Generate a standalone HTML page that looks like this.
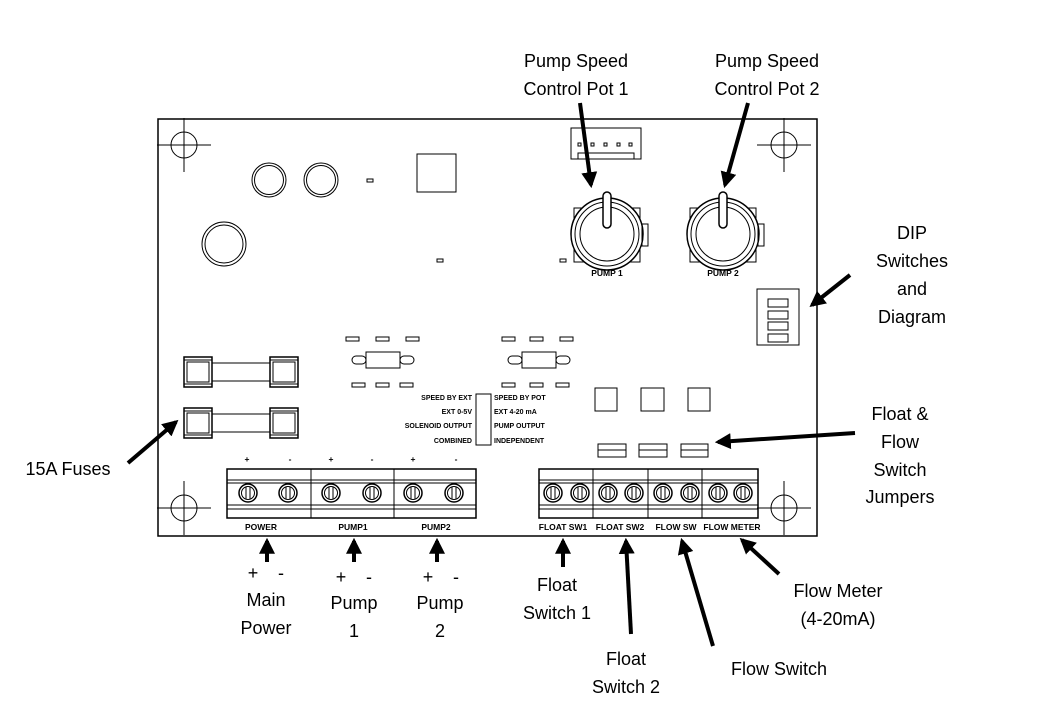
<!DOCTYPE html>
<html><head><meta charset="utf-8"><style>
html,body{margin:0;padding:0;background:#fff;}
svg{display:block;}
.t{font-family:"Liberation Sans",sans-serif;font-size:18px;fill:#000;text-anchor:middle;}
.s{font-family:"Liberation Sans",sans-serif;font-size:7px;font-weight:bold;fill:#000;}
.l{font-family:"Liberation Sans",sans-serif;font-size:8.5px;font-weight:bold;fill:#000;text-anchor:middle;}
</style></head><body>
<svg width="1050" height="713" viewBox="0 0 1050 713" xmlns="http://www.w3.org/2000/svg">
<defs>
<marker id="a" viewBox="0 0 10 10" refX="8" refY="5" markerWidth="4" markerHeight="4" orient="auto"><path d="M0,0 L10,5 L0,10 z" fill="#000"/></marker>
<g id="ch"><circle r="13" fill="none" stroke="#000" stroke-width="1"/><line x1="-27" y1="0" x2="27" y2="0" stroke="#000"/><line x1="0" y1="-27" x2="0" y2="27" stroke="#000"/></g>
<g id="sc"><circle r="9" fill="#fff" stroke="#000" stroke-width="1.5"/><circle r="6.5" fill="none" stroke="#000"/><line x1="-2" y1="-6" x2="-2" y2="6" stroke="#000"/><line x1="2" y1="-6" x2="2" y2="6" stroke="#000"/></g>
<g id="pot" fill="none" stroke="#000"><rect x="-33" y="-26" width="66" height="54"/><circle r="36" fill="#fff" stroke-width="1.5"/><circle r="32"/><circle r="27"/><rect x="-4" y="-42" width="8" height="36" rx="4" fill="#fff" stroke-width="1.5"/><rect x="35" y="-10" width="6" height="22"/></g>
<g id="fu" fill="none" stroke="#000"><rect x="0" y="0" width="28" height="30" fill="#fff" stroke-width="1.5"/><rect x="3" y="5" width="22" height="20"/><line x1="0" y1="3" x2="28" y2="3"/><line x1="0" y1="27" x2="28" y2="27"/><line x1="28" y1="6" x2="86" y2="6"/><line x1="28" y1="24" x2="86" y2="24"/><rect x="86" y="0" width="28" height="30" fill="#fff" stroke-width="1.5"/><rect x="89" y="5" width="22" height="20"/><line x1="86" y1="3" x2="114" y2="3"/><line x1="86" y1="27" x2="114" y2="27"/></g>
</defs>
<rect x="158" y="119" width="659" height="417" fill="none" stroke="#000" stroke-width="1.5"/>
<use href="#ch" x="184" y="145"/><use href="#ch" x="784" y="145"/><use href="#ch" x="184" y="508"/><use href="#ch" x="784" y="508"/>
<g fill="none" stroke="#000">
<circle cx="269" cy="180" r="17"/><circle cx="269" cy="180" r="14.5"/>
<circle cx="321" cy="180" r="17"/><circle cx="321" cy="180" r="14.5"/>
<circle cx="224" cy="244" r="22"/><circle cx="224" cy="244" r="19"/>
<rect x="417" y="154" width="39" height="38"/>
<rect x="367" y="179" width="6" height="3"/><rect x="437" y="259" width="6" height="3"/><rect x="560" y="259" width="6" height="3"/>
<rect x="571" y="128" width="70" height="31"/><rect x="578" y="153" width="56" height="6"/>
<rect x="578" y="143" width="3" height="3"/><rect x="591" y="143" width="3" height="3"/><rect x="604" y="143" width="3" height="3"/><rect x="617" y="143" width="3" height="3"/><rect x="629" y="143" width="3" height="3"/>
<rect x="366" y="352" width="34" height="16"/><rect x="352" y="356" width="14" height="8" rx="4"/><rect x="400" y="356" width="14" height="8" rx="4"/>
<rect x="522" y="352" width="34" height="16"/><rect x="508" y="356" width="14" height="8" rx="4"/><rect x="556" y="356" width="14" height="8" rx="4"/>
<rect x="346" y="337" width="13" height="4"/><rect x="376" y="337" width="13" height="4"/><rect x="406" y="337" width="13" height="4"/>
<rect x="352" y="383" width="13" height="4"/><rect x="376" y="383" width="13" height="4"/><rect x="400" y="383" width="13" height="4"/>
<rect x="502" y="337" width="13" height="4"/><rect x="530" y="337" width="13" height="4"/><rect x="560" y="337" width="13" height="4"/>
<rect x="502" y="383" width="13" height="4"/><rect x="530" y="383" width="13" height="4"/><rect x="556" y="383" width="13" height="4"/>
<rect x="595" y="388" width="22" height="23"/><rect x="641" y="388" width="23" height="23"/><rect x="688" y="388" width="22" height="23"/>
<rect x="598" y="444" width="28" height="13"/><line x1="598" y1="450" x2="626" y2="450"/>
<rect x="639" y="444" width="28" height="13"/><line x1="639" y1="450" x2="667" y2="450"/>
<rect x="681" y="444" width="27" height="13"/><line x1="681" y1="450" x2="708" y2="450"/>
<rect x="757" y="289" width="42" height="56"/>
<rect x="768" y="299" width="20" height="8"/><rect x="768" y="311" width="20" height="8"/><rect x="768" y="322" width="20" height="8"/><rect x="768" y="334" width="20" height="8"/>
<rect x="476" y="394" width="15" height="51"/>
</g>
<use href="#pot" x="607" y="234"/><use href="#pot" x="723" y="234"/>
<text class="l" x="607" y="276">PUMP 1</text><text class="l" x="723" y="276">PUMP 2</text>
<use href="#fu" x="184" y="357"/><use href="#fu" x="184" y="408"/>
<g class="s" text-anchor="end"><text x="472" y="400">SPEED BY EXT</text><text x="472" y="414">EXT 0-5V</text><text x="472" y="428">SOLENOID OUTPUT</text><text x="472" y="443">COMBINED</text></g>
<g class="s"><text x="494" y="400">SPEED BY POT</text><text x="494" y="414">EXT 4-20 mA</text><text x="494" y="428">PUMP OUTPUT</text><text x="494" y="443">INDEPENDENT</text></g>
<g fill="none" stroke="#000">
<rect x="227" y="469" width="249" height="49" stroke-width="1.5"/><line x1="227" y1="480" x2="476" y2="480"/><line x1="227" y1="483" x2="476" y2="483"/><line x1="227" y1="505" x2="476" y2="505"/><line x1="227" y1="509" x2="476" y2="509"/>
<line x1="311" y1="469" x2="311" y2="518"/><line x1="394" y1="469" x2="394" y2="518"/>
<rect x="539" y="469" width="219" height="49" stroke-width="1.5"/><line x1="539" y1="480" x2="758" y2="480"/><line x1="539" y1="483" x2="758" y2="483"/><line x1="539" y1="505" x2="758" y2="505"/><line x1="539" y1="509" x2="758" y2="509"/>
<line x1="593" y1="469" x2="593" y2="518"/><line x1="648" y1="469" x2="648" y2="518"/><line x1="702" y1="469" x2="702" y2="518"/>
</g>
<use href="#sc" x="248" y="493"/><use href="#sc" x="288" y="493"/><use href="#sc" x="331" y="493"/><use href="#sc" x="372" y="493"/><use href="#sc" x="413" y="493"/><use href="#sc" x="454" y="493"/>
<use href="#sc" x="553" y="493"/><use href="#sc" x="580" y="493"/><use href="#sc" x="608" y="493"/><use href="#sc" x="634" y="493"/><use href="#sc" x="663" y="493"/><use href="#sc" x="690" y="493"/><use href="#sc" x="718" y="493"/><use href="#sc" x="743" y="493"/>
<g class="l"><text x="247" y="462">+</text><text x="290" y="462">-</text><text x="331" y="462">+</text><text x="372" y="462">-</text><text x="413" y="462">+</text><text x="456" y="462">-</text>
<text x="261" y="530">POWER</text><text x="353" y="530">PUMP1</text><text x="436" y="530">PUMP2</text><text x="563" y="530">FLOAT SW1</text><text x="620" y="530">FLOAT SW2</text><text x="676" y="530">FLOW SW</text><text x="732" y="530">FLOW METER</text></g>
<g stroke="#000" stroke-width="4" marker-end="url(#a)">
<line x1="580" y1="103" x2="591" y2="185"/>
<line x1="748" y1="103" x2="725" y2="185"/>
<line x1="850" y1="275" x2="812" y2="305"/>
<line x1="855" y1="433" x2="718" y2="442"/>
<line x1="128" y1="463" x2="176" y2="422"/>
<line x1="267" y1="562" x2="267" y2="541"/>
<line x1="354" y1="562" x2="354" y2="541"/>
<line x1="437" y1="562" x2="437" y2="541"/>
<line x1="563" y1="567" x2="563" y2="541"/>
<line x1="631" y1="634" x2="626" y2="541"/>
<line x1="713" y1="646" x2="682" y2="541"/>
<line x1="779" y1="574" x2="742" y2="540"/>
</g>
<g class="t">
<text x="576" y="67">Pump Speed</text><text x="576" y="95">Control Pot 1</text>
<text x="767" y="67">Pump Speed</text><text x="767" y="95">Control Pot 2</text>
<text x="912" y="239">DIP</text><text x="912" y="267">Switches</text><text x="912" y="295">and</text><text x="912" y="323">Diagram</text>
<text x="900" y="420">Float &amp;</text><text x="900" y="448">Flow</text><text x="900" y="476">Switch</text><text x="900" y="503">Jumpers</text>
<text x="68" y="475">15A Fuses</text>
<text x="253" y="579">+</text><text x="281" y="579">-</text><text x="266" y="606">Main</text><text x="266" y="634">Power</text>
<text x="341" y="583">+</text><text x="369" y="583">-</text><text x="354" y="609">Pump</text><text x="354" y="637">1</text>
<text x="428" y="583">+</text><text x="456" y="583">-</text><text x="440" y="609">Pump</text><text x="440" y="637">2</text>
<text x="557" y="591">Float</text><text x="557" y="619">Switch 1</text>
<text x="626" y="665">Float</text><text x="626" y="693">Switch 2</text>
<text x="779" y="675">Flow Switch</text>
<text x="838" y="597">Flow Meter</text><text x="838" y="625">(4-20mA)</text>
</g>
</svg>
</body></html>
